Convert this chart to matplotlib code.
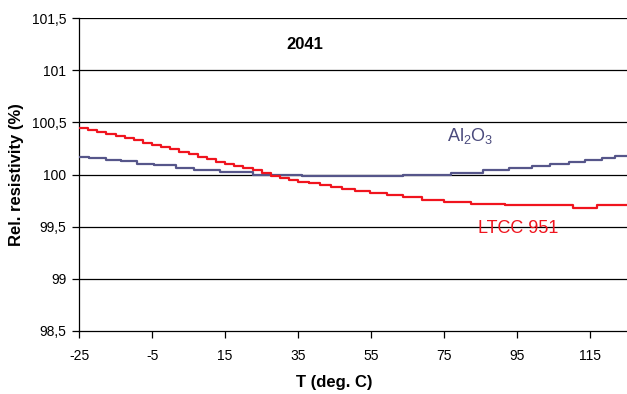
import matplotlib
matplotlib.use("Agg")
import matplotlib.pyplot as plt

plt.rcParams['font.family'] = ['Liberation Sans', 'DejaVu Sans']
plt.rcParams['mathtext.fontset'] = 'custom'
plt.rcParams['mathtext.rm'] = 'Liberation Sans'

# Step breakpoints (temperature, value held until next point)
al2o3_t = [-25, -22.3, -17.6, -13.5, -9, -4.5, 1.5, 6.5, 13.7, 22.5, 36, 63.8,
           76.8, 85.5, 92.8, 99, 104, 109, 113.6, 118.2, 121.8, 125]
al2o3_v = [100.17, 100.155, 100.14, 100.125, 100.10, 100.09, 100.065, 100.04, 100.02,
           100.00, 99.985, 100.00, 100.015, 100.04, 100.06, 100.08, 100.10, 100.12,
           100.14, 100.16, 100.18, 100.18]

ltcc_t = [-25, -22.5, -20, -17.5, -15, -12.5, -10, -7.5, -5, -2.5, 0, 2.5, 5, 7.5,
          10, 12.5, 15, 17.5, 20, 22.5, 25, 27.5, 30, 32.5, 35, 38, 41, 44, 47, 50.6,
          54.7, 59.3, 63.8, 68.9, 74.8, 82.3, 91.5, 110.2, 116.8, 125]
ltcc_v = [100.45, 100.43, 100.41, 100.39, 100.37, 100.35, 100.33, 100.30, 100.28,
          100.26, 100.24, 100.22, 100.20, 100.17, 100.15, 100.12, 100.10, 100.08,
          100.06, 100.04, 100.01, 99.99, 99.97, 99.95, 99.93, 99.915, 99.90, 99.88,
          99.86, 99.84, 99.82, 99.80, 99.78, 99.76, 99.74, 99.72, 99.705, 99.68,
          99.71, 99.71]

x_ticks = [-25, -5, 15, 35, 55, 75, 95, 115]
y_ticks = [98.5, 99, 99.5, 100, 100.5, 101, 101.5]
y_tick_labels = ['98,5', '99', '99,5', '100', '100,5', '101', '101,5']

blue = '#56568A'
red = '#F0141E'

fig = plt.figure(figsize=(6.27, 3.94), dpi=100)
ax = fig.add_axes([79/627, 1 - 331/394, 548/627, 313/394])

ax.set_xlim(-25, 125)
ax.set_ylim(98.5, 101.5)
for yv in y_ticks[1:]:
    ax.axhline(yv, color='black', lw=0.9, zorder=1)

ax.plot(al2o3_t, al2o3_v, drawstyle='steps-post', color=blue, lw=1.6, zorder=3)
ax.plot(ltcc_t, ltcc_v, drawstyle='steps-post', color=red, lw=1.6, zorder=4)

ax.set_xticks(x_ticks)
ax.set_xticklabels([str(v) for v in x_ticks])
ax.set_yticks(y_ticks)
ax.set_yticklabels(y_tick_labels)
ax.tick_params(direction='out', length=5, width=0.9, labelsize=10, colors='black', pad=4)
ax.tick_params(axis='x', pad=8)
for s in ['top', 'right']:
    ax.spines[s].set_visible(False)
for s in ['left', 'bottom']:
    ax.spines[s].set_linewidth(0.9)

ax.set_xlabel('T (deg. C)', fontsize=12, fontweight='bold')
ax.xaxis.set_label_coords(0.465, -0.141)
ax.set_ylabel('Rel. resistivity (%)', fontsize=12, fontweight='bold')
ax.yaxis.set_label_coords(-0.100, 0.5)

ax.text(0.412, 0.914, '2041', transform=ax.transAxes, fontsize=12, fontweight='bold',
        ha='center', va='center')
ax.text(82, 100.365, r'Al$_\mathregular{2}$O$_\mathregular{3}$', color='#4B4B7D',
        fontsize=13, ha='center', va='center')
ax.text(95.3, 99.48, 'LTCC 951', color=red, fontsize=13, ha='center', va='center')

fig.savefig('out.png', dpi=100)
